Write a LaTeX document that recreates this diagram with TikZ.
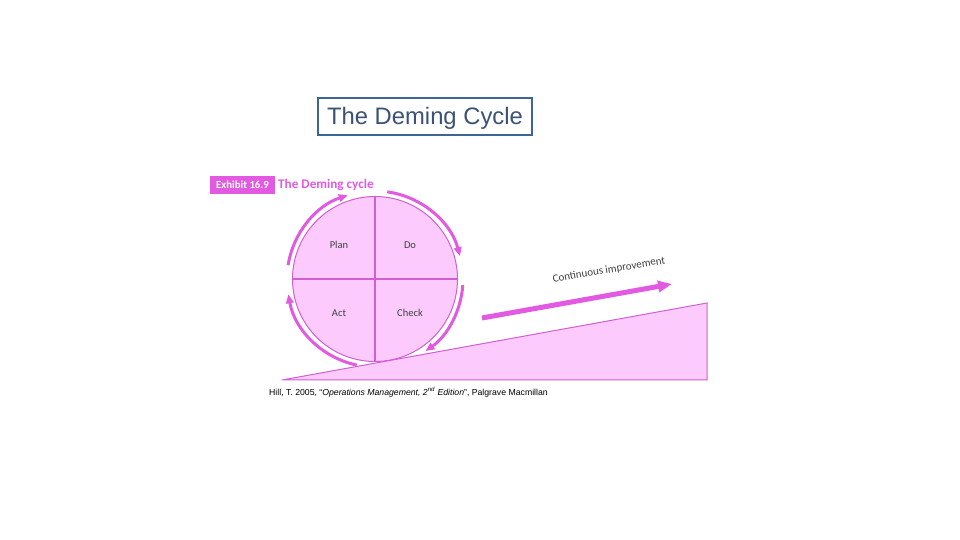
\documentclass[tikz,border=0pt]{standalone}
\usepackage{fontspec}
\setmainfont{Liberation Sans}
\newfontfamily\calib{Carlito}
\usetikzlibrary{arrows.meta,calc}
\definecolor{boxblue}{HTML}{3D6595}
\definecolor{titletext}{HTML}{3C5275}
\definecolor{mag}{HTML}{E25AE2}
\definecolor{magline}{HTML}{D060D0}
\definecolor{pinkfill}{HTML}{FCCAFC}
\definecolor{labelgray}{HTML}{404040}
\tikzset{
  cyclearrow/.style={draw=mag, line width=3pt, -{Triangle[length=9pt,width=7.5pt]}},
  quad/.style={font=\calib\fontsize{10.5}{12}\selectfont, text=labelgray},
}
\begin{document}
\begin{tikzpicture}[x=1pt,y=1pt]
\useasboundingbox[fill=white] (0,0) rectangle (960,540);
% title box
\node[draw=boxblue, line width=2.6pt, minimum width=214pt, minimum height=37pt, inner sep=0pt] (title) at (425,423.5) {};
\node[text=titletext, font=\fontsize{23.8}{26}\selectfont, inner sep=0pt] (titletxt) at (425,421.5) {The Deming Cycle};
% exhibit label
\node[fill=mag, minimum width=65pt, minimum height=18pt, inner sep=0pt, text=white,
      font=\calib\bfseries\fontsize{10.8}{12}\selectfont] (exh) at (242.5,355) {Exhibit 16.9};
\node[anchor=west, inner sep=0pt, text=mag, font=\calib\bfseries\fontsize{13.2}{15}\selectfont] (exhtitle) at (278,355.5) {The Deming cycle};
% circle
\node[circle, draw=magline, fill=pinkfill, line width=1pt, minimum size=165pt, inner sep=0pt] (c) at (375,261) {};
\draw[magline, line width=1.2pt] (c.north) -- (c.south);
\draw[magline, line width=1.2pt] (c.west) -- (c.east);
\node[quad] (plan) at (339,295) {Plan};
\node[quad] (do) at (410,295) {Do};
\node[quad] (act) at (339,227) {Act};
\node[quad] (check) at (410,227) {Check};
% cycle arrows
\draw[cyclearrow] ($(c.center)+(171:88)$) arc[start angle=171, end angle=108, radius=88];
\draw[cyclearrow] ($(c.center)+(82:88)$) arc[start angle=82, end angle=15, radius=88];
\draw[cyclearrow] ($(c.center)+(-4:88)$) arc[start angle=-4, end angle=-55, radius=88];
\draw[cyclearrow] ($(c.center)+(258:88)$) arc[start angle=258, end angle=190, radius=88];
% ramp
\coordinate (r1) at (282,160);
\coordinate (r2) at (707,160);
\coordinate (r3) at (707,237);
\draw[draw=magline, fill=pinkfill, line width=1pt] (r1) -- (r2) -- (r3) -- cycle;
% continuous improvement
\coordinate (ia) at (482,222);
\coordinate (ib) at (672,256);
\draw[draw=mag, line width=5pt, -{Triangle[length=14pt,width=11pt]}] (ia) -- (ib);
\node[rotate=9.5, text=labelgray, font=\calib\fontsize{11}{12}\selectfont] (ci) at (609,270) {Continuous improvement};
% citation
\node[anchor=west, inner sep=0pt, font=\fontsize{8.7}{10}\selectfont, text=black] (cite) at (269,147.5)
  {Hill, T. 2005, ``\textit{Operations Management, 2\textsuperscript{nd} Edition}'', Palgrave Macmillan};
\end{tikzpicture}
\end{document}
